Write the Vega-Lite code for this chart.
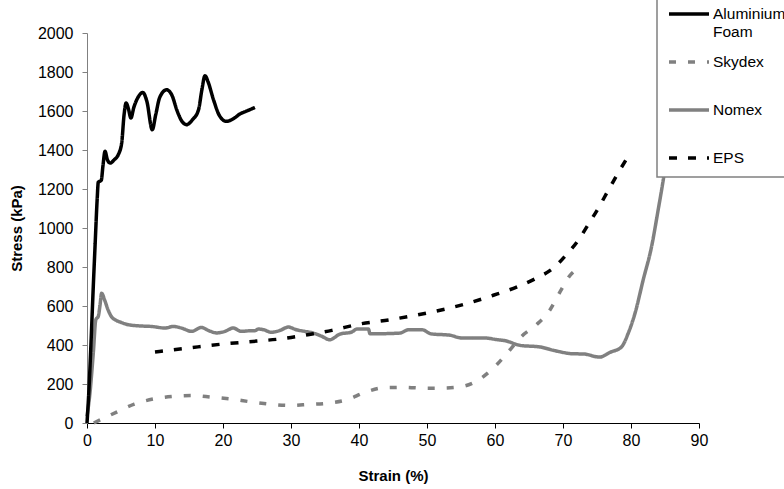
{
  "$schema": "https://vega.github.io/schema/vega-lite/v6.json",
  "width": 612,
  "height": 390,
  "autosize": {"type": "none"},
  "padding": {"left": 87, "top": 33, "right": 85, "bottom": 66},
  "background": "white",
  "config": {
    "view": {"stroke": null},
    "font": "Liberation Sans",
    "axis": {"grid": false, "labelFont": "Liberation Sans", "titleFont": "Liberation Sans", "labelFontSize": 16, "titleFontSize": 15, "titleFontWeight": "bold", "labelColor": "black", "titleColor": "black", "tickSize": 5}
  },
  "data": {
    "values": [
      {"series": "Nomex", "strain": 0, "stress": 34},
      {"series": "Nomex", "strain": 0.44, "stress": 155},
      {"series": "Nomex", "strain": 0.93, "stress": 360},
      {"series": "Nomex", "strain": 1.3, "stress": 530},
      {"series": "Nomex", "strain": 1.66, "stress": 547},
      {"series": "Nomex", "strain": 1.9, "stress": 600},
      {"series": "Nomex", "strain": 2.15, "stress": 665},
      {"series": "Nomex", "strain": 2.6, "stress": 630},
      {"series": "Nomex", "strain": 3.1, "stress": 580},
      {"series": "Nomex", "strain": 3.6, "stress": 545},
      {"series": "Nomex", "strain": 4.2, "stress": 528},
      {"series": "Nomex", "strain": 4.85, "stress": 518},
      {"series": "Nomex", "strain": 6.1, "stress": 504},
      {"series": "Nomex", "strain": 7.7, "stress": 498},
      {"series": "Nomex", "strain": 9.5, "stress": 495},
      {"series": "Nomex", "strain": 11.5, "stress": 487},
      {"series": "Nomex", "strain": 12.7, "stress": 495},
      {"series": "Nomex", "strain": 13.8, "stress": 488},
      {"series": "Nomex", "strain": 15.4, "stress": 470},
      {"series": "Nomex", "strain": 16.8, "stress": 490},
      {"series": "Nomex", "strain": 18.0, "stress": 472},
      {"series": "Nomex", "strain": 19.1, "stress": 462},
      {"series": "Nomex", "strain": 20.3, "stress": 470},
      {"series": "Nomex", "strain": 21.5, "stress": 487},
      {"series": "Nomex", "strain": 22.7, "stress": 470},
      {"series": "Nomex", "strain": 24.0, "stress": 473},
      {"series": "Nomex", "strain": 24.7, "stress": 473},
      {"series": "Nomex", "strain": 25.2, "stress": 482},
      {"series": "Nomex", "strain": 26.0, "stress": 478},
      {"series": "Nomex", "strain": 27.1, "stress": 465},
      {"series": "Nomex", "strain": 28.4, "stress": 475},
      {"series": "Nomex", "strain": 29.6, "stress": 492},
      {"series": "Nomex", "strain": 30.8, "stress": 478},
      {"series": "Nomex", "strain": 32.0, "stress": 470},
      {"series": "Nomex", "strain": 33.3, "stress": 461},
      {"series": "Nomex", "strain": 34.5, "stress": 445},
      {"series": "Nomex", "strain": 35.7, "stress": 427},
      {"series": "Nomex", "strain": 37.2, "stress": 456},
      {"series": "Nomex", "strain": 38.9, "stress": 466},
      {"series": "Nomex", "strain": 39.7, "stress": 482},
      {"series": "Nomex", "strain": 41.4, "stress": 482},
      {"series": "Nomex", "strain": 41.6, "stress": 458},
      {"series": "Nomex", "strain": 43.1, "stress": 458},
      {"series": "Nomex", "strain": 46.0, "stress": 461},
      {"series": "Nomex", "strain": 47.25, "stress": 478},
      {"series": "Nomex", "strain": 49.3, "stress": 478},
      {"series": "Nomex", "strain": 50.6, "stress": 457},
      {"series": "Nomex", "strain": 53.4, "stress": 450},
      {"series": "Nomex", "strain": 55.1, "stress": 436},
      {"series": "Nomex", "strain": 58.5, "stress": 436},
      {"series": "Nomex", "strain": 60.2, "stress": 428},
      {"series": "Nomex", "strain": 61.5, "stress": 422},
      {"series": "Nomex", "strain": 63.7, "stress": 398},
      {"series": "Nomex", "strain": 66.6, "stress": 390},
      {"series": "Nomex", "strain": 68.8, "stress": 371},
      {"series": "Nomex", "strain": 71.5, "stress": 355},
      {"series": "Nomex", "strain": 73.0, "stress": 354},
      {"series": "Nomex", "strain": 75.4, "stress": 338},
      {"series": "Nomex", "strain": 76.9, "stress": 362},
      {"series": "Nomex", "strain": 78.6, "stress": 390},
      {"series": "Nomex", "strain": 79.6, "stress": 461},
      {"series": "Nomex", "strain": 80.6, "stress": 564},
      {"series": "Nomex", "strain": 81.8, "stress": 735},
      {"series": "Nomex", "strain": 83.0, "stress": 900},
      {"series": "Nomex", "strain": 84.0, "stress": 1094},
      {"series": "Nomex", "strain": 84.75, "stress": 1248},
      {"series": "Nomex", "strain": 85.4, "stress": 1400},
      {"series": "Nomex", "strain": 86.0, "stress": 1500},

      {"series": "Skydex", "strain": 1.0, "stress": 0},
      {"series": "Skydex", "strain": 4.36, "stress": 56},
      {"series": "Skydex", "strain": 6.96, "stress": 97},
      {"series": "Skydex", "strain": 9.75, "stress": 123},
      {"series": "Skydex", "strain": 12.55, "stress": 136},
      {"series": "Skydex", "strain": 15.5, "stress": 141},
      {"series": "Skydex", "strain": 18.3, "stress": 133},
      {"series": "Skydex", "strain": 21.2, "stress": 123},
      {"series": "Skydex", "strain": 24.0, "stress": 109},
      {"series": "Skydex", "strain": 26.9, "stress": 97},
      {"series": "Skydex", "strain": 29.7, "stress": 90},
      {"series": "Skydex", "strain": 32.5, "stress": 95},
      {"series": "Skydex", "strain": 35.5, "stress": 102},
      {"series": "Skydex", "strain": 38.2, "stress": 119},
      {"series": "Skydex", "strain": 40.9, "stress": 157},
      {"series": "Skydex", "strain": 43.7, "stress": 181},
      {"series": "Skydex", "strain": 46.8, "stress": 183},
      {"series": "Skydex", "strain": 49.7, "stress": 178},
      {"series": "Skydex", "strain": 52.4, "stress": 179},
      {"series": "Skydex", "strain": 55.3, "stress": 188},
      {"series": "Skydex", "strain": 57.8, "stress": 226},
      {"series": "Skydex", "strain": 60.0, "stress": 290},
      {"series": "Skydex", "strain": 62.0, "stress": 367},
      {"series": "Skydex", "strain": 63.9, "stress": 444},
      {"series": "Skydex", "strain": 66.1, "stress": 504},
      {"series": "Skydex", "strain": 68.1, "stress": 581},
      {"series": "Skydex", "strain": 69.6, "stress": 675},
      {"series": "Skydex", "strain": 71.1, "stress": 760},
      {"series": "Skydex", "strain": 72.0, "stress": 786},
      {"series": "Skydex", "strain": 73.0, "stress": 795},

      {"series": "EPS", "strain": 10, "stress": 364},
      {"series": "EPS", "strain": 15, "stress": 385},
      {"series": "EPS", "strain": 20, "stress": 405},
      {"series": "EPS", "strain": 25, "stress": 420},
      {"series": "EPS", "strain": 28.4, "stress": 431},
      {"series": "EPS", "strain": 33.3, "stress": 458},
      {"series": "EPS", "strain": 36, "stress": 475},
      {"series": "EPS", "strain": 40, "stress": 507},
      {"series": "EPS", "strain": 44.6, "stress": 530},
      {"series": "EPS", "strain": 50, "stress": 564},
      {"series": "EPS", "strain": 55.8, "stress": 612},
      {"series": "EPS", "strain": 59.75, "stress": 655},
      {"series": "EPS", "strain": 63.4, "stress": 700},
      {"series": "EPS", "strain": 66.1, "stress": 743},
      {"series": "EPS", "strain": 68.6, "stress": 795},
      {"series": "EPS", "strain": 70.5, "stress": 863},
      {"series": "EPS", "strain": 72.3, "stress": 940},
      {"series": "EPS", "strain": 73.7, "stress": 1017},
      {"series": "EPS", "strain": 75.2, "stress": 1102},
      {"series": "EPS", "strain": 76.7, "stress": 1196},
      {"series": "EPS", "strain": 78.1, "stress": 1282},
      {"series": "EPS", "strain": 80.0, "stress": 1390},

      {"series": "Aluminium Foam", "strain": 0, "stress": 0},
      {"series": "Aluminium Foam", "strain": 0.3, "stress": 180},
      {"series": "Aluminium Foam", "strain": 0.6, "stress": 420},
      {"series": "Aluminium Foam", "strain": 0.9, "stress": 680},
      {"series": "Aluminium Foam", "strain": 1.2, "stress": 920},
      {"series": "Aluminium Foam", "strain": 1.5, "stress": 1150},
      {"series": "Aluminium Foam", "strain": 1.66, "stress": 1235},
      {"series": "Aluminium Foam", "strain": 1.9, "stress": 1240},
      {"series": "Aluminium Foam", "strain": 2.1, "stress": 1245},
      {"series": "Aluminium Foam", "strain": 2.35, "stress": 1320},
      {"series": "Aluminium Foam", "strain": 2.65, "stress": 1393},
      {"series": "Aluminium Foam", "strain": 3.0, "stress": 1350},
      {"series": "Aluminium Foam", "strain": 3.4, "stress": 1333},
      {"series": "Aluminium Foam", "strain": 4.0, "stress": 1350},
      {"series": "Aluminium Foam", "strain": 4.6, "stress": 1376},
      {"series": "Aluminium Foam", "strain": 5.1, "stress": 1436},
      {"series": "Aluminium Foam", "strain": 5.45, "stress": 1580},
      {"series": "Aluminium Foam", "strain": 5.75, "stress": 1641},
      {"series": "Aluminium Foam", "strain": 6.1, "stress": 1610},
      {"series": "Aluminium Foam", "strain": 6.45, "stress": 1564},
      {"series": "Aluminium Foam", "strain": 6.9, "stress": 1620},
      {"series": "Aluminium Foam", "strain": 7.5, "stress": 1670},
      {"series": "Aluminium Foam", "strain": 8.2, "stress": 1695},
      {"series": "Aluminium Foam", "strain": 8.8, "stress": 1650},
      {"series": "Aluminium Foam", "strain": 9.6, "stress": 1504},
      {"series": "Aluminium Foam", "strain": 10.1, "stress": 1580},
      {"series": "Aluminium Foam", "strain": 10.7, "stress": 1670},
      {"series": "Aluminium Foam", "strain": 11.7, "stress": 1709},
      {"series": "Aluminium Foam", "strain": 12.5, "stress": 1680},
      {"series": "Aluminium Foam", "strain": 13.2, "stress": 1606},
      {"series": "Aluminium Foam", "strain": 14.0, "stress": 1545},
      {"series": "Aluminium Foam", "strain": 14.65, "stress": 1530},
      {"series": "Aluminium Foam", "strain": 15.5, "stress": 1555},
      {"series": "Aluminium Foam", "strain": 16.4, "stress": 1606},
      {"series": "Aluminium Foam", "strain": 16.9, "stress": 1710},
      {"series": "Aluminium Foam", "strain": 17.35, "stress": 1781},
      {"series": "Aluminium Foam", "strain": 17.8, "stress": 1750},
      {"series": "Aluminium Foam", "strain": 18.6, "stress": 1658},
      {"series": "Aluminium Foam", "strain": 19.5, "stress": 1575},
      {"series": "Aluminium Foam", "strain": 20.5, "stress": 1547},
      {"series": "Aluminium Foam", "strain": 21.5, "stress": 1560},
      {"series": "Aluminium Foam", "strain": 22.5, "stress": 1585},
      {"series": "Aluminium Foam", "strain": 23.5, "stress": 1600},
      {"series": "Aluminium Foam", "strain": 24.7, "stress": 1618}
    ]
  },
  "mark": {"type": "line", "interpolate": "monotone", "strokeWidth": 3.5, "clip": false},
  "encoding": {
    "x": {
      "field": "strain", "type": "quantitative", "title": "Strain (%)",
      "scale": {"domain": [0, 90], "nice": false},
      "axis": {"values": [0, 10, 20, 30, 40, 50, 60, 70, 80, 90], "format": "d", "domainColor": "black", "tickColor": "black", "labelPadding": 4, "titlePadding": 20, "labelFlush": false}
    },
    "y": {
      "field": "stress", "type": "quantitative", "title": "Stress (kPa)",
      "scale": {"domain": [0, 2000], "nice": false},
      "axis": {"values": [0, 200, 400, 600, 800, 1000, 1200, 1400, 1600, 1800, 2000], "format": "d", "domainColor": "#808080", "tickColor": "#808080", "labelPadding": 9, "titlePadding": 13}
    },
    "color": {
      "field": "series", "type": "nominal",
      "scale": {"domain": ["Aluminium Foam", "Skydex", "Nomex", "EPS"], "range": ["black", "#808080", "#808080", "black"]},
      "legend": {
        "title": null, "orient": "none", "legendX": 570, "legendY": -51,
        "symbolType": "stroke", "symbolSize": 1600, "symbolStrokeWidth": 3.5,
        "labelFontSize": 15.5, "labelFont": "Liberation Sans", "labelColor": "black", "labelOffset": 2,
        "labelExpr": "datum.label == 'Aluminium Foam' ? ['Aluminium', 'Foam'] : datum.label",
        "labelLimit": 200,
        "rowPadding": 0, "gridAlign": "all",
        "padding": 10, "fillColor": "white", "strokeColor": "#808080",
        "encode": {"legend": {"update": {"strokeWidth": {"value": 1.5}}}}
      }
    },
    "strokeDash": {
      "field": "series", "type": "nominal",
      "scale": {"domain": ["Aluminium Foam", "Skydex", "Nomex", "EPS"], "range": [[1, 0], [7, 12], [1, 0], [8, 11]]},
      "legend": null
    }
  }
}
